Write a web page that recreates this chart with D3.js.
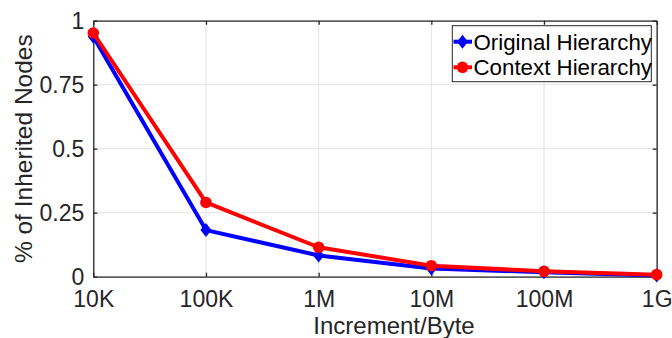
<!DOCTYPE html>
<html>
<head>
<meta charset="utf-8">
<script src="https://cdn.jsdelivr.net/npm/d3@7"></script>
<style>
  html, body { margin: 0; padding: 0; background: #fff; }
  svg { display: block; font-family: "Liberation Sans", Arial, sans-serif; }
</style>
</head>
<body>
<svg id="chart" width="672" height="338"></svg>
<script>
// data
var increments = [1e4, 1e5, 1e6, 1e7, 1e8, 1e9];
var incrementLabels = ["10K", "100K", "1M", "10M", "100M", "1G"];
var originalHierarchy = [0.937, 0.182, 0.083, 0.032, 0.017, 0.005];
var contextHierarchy = [0.952, 0.290, 0.115, 0.043, 0.021, 0.008];
var yTicks = [0, 0.25, 0.5, 0.75, 1];
var yTickLabels = ["0", "0.25", "0.5", "0.75", "1"];

var svg = d3.select("#chart");
var plotLeft = 93.3, plotRight = 656.7, plotTop = 20.7, plotBottom = 276.7;
var axisColor = "#262626";

var x = d3.scaleLog().domain([1e4, 1e9]).range([plotLeft, plotRight]);
var y = d3.scaleLinear().domain([0, 1]).range([plotBottom, plotTop]);

// grid
var grid = svg.append("g").attr("class", "grid");
grid.selectAll("line.gx")
    .data(increments)
    .enter()
    .append("line")
    .attr("x1", function(d){ return x(d); })
    .attr("x2", function(d){ return x(d); })
    .attr("y1", plotTop)
    .attr("y2", plotBottom)
    .attr("stroke", "#e3e3e3")
    .attr("stroke-width", 1);
grid.selectAll("line.gy")
    .data(yTicks)
    .enter()
    .append("line")
    .attr("x1", plotLeft)
    .attr("x2", plotRight)
    .attr("y1", function(d){ return y(d); })
    .attr("y2", function(d){ return y(d); })
    .attr("stroke", "#e3e3e3")
    .attr("stroke-width", 1);

// axes (ticks inside, box on)
var xAxis = d3.axisBottom(x)
    .tickValues(increments)
    .tickFormat(function(d, i){ return incrementLabels[i]; })
    .tickSizeInner(-4)
    .tickSizeOuter(0)
    .tickPadding(14);
var gx = svg.append("g")
    .attr("transform", "translate(0," + plotBottom + ")")
    .call(xAxis);
gx.selectAll("text").attr("font-size", "23px").attr("fill", axisColor)
    .attr("font-family", "Liberation Sans, Arial, sans-serif");

var yAxis = d3.axisLeft(y)
    .tickValues(yTicks)
    .tickFormat(function(d, i){ return yTickLabels[i]; })
    .tickSizeInner(-4)
    .tickSizeOuter(0)
    .tickPadding(9);
var gy = svg.append("g")
    .attr("transform", "translate(" + plotLeft + ",0)")
    .call(yAxis);
gy.selectAll("text").attr("font-size", "23px").attr("fill", axisColor)
    .attr("font-family", "Liberation Sans, Arial, sans-serif");

svg.append("g")
    .attr("transform", "translate(0," + plotTop + ")")
    .call(d3.axisTop(x).tickValues(increments).tickFormat("").tickSizeInner(-4).tickSizeOuter(0));
svg.append("g")
    .attr("transform", "translate(" + plotRight + ",0)")
    .call(d3.axisRight(y).tickValues(yTicks).tickFormat("").tickSizeInner(-4).tickSizeOuter(0));

svg.selectAll(".domain").attr("stroke", axisColor).attr("stroke-width", 1.3);
svg.selectAll(".tick line").attr("stroke", axisColor).attr("stroke-width", 1.3);

// axis labels
svg.append("text")
    .attr("x", 394)
    .attr("y", 334)
    .attr("text-anchor", "middle")
    .attr("font-size", "24px")
    .attr("fill", axisColor)
    .text("Increment/Byte");
svg.append("text")
    .attr("transform", "translate(32," + ((plotTop + plotBottom) / 2) + ") rotate(-90)")
    .attr("text-anchor", "middle")
    .attr("font-size", "24.5px")
    .attr("fill", axisColor)
    .text("% of Inherited Nodes");

// series
var series = [
    {name: "Original Hierarchy", values: originalHierarchy, color: "#0000ff", marker: "diamond"},
    {name: "Context Hierarchy", values: contextHierarchy, color: "#ff0000", marker: "circle"}
];

function drawMarker(g, s, cx, cy)
{
    if(s.marker == "diamond")
    {
        g.append("path")
         .attr("d", "M" + cx + "," + (cy - 7) + "L" + (cx + 5.5) + "," + cy + "L" + cx + "," + (cy + 7) + "L" + (cx - 5.5) + "," + cy + "Z")
         .attr("fill", s.color);
    }
    else
    {
        g.append("circle")
         .attr("cx", cx)
         .attr("cy", cy)
         .attr("r", 5.8)
         .attr("fill", s.color);
    }
}

var line = d3.line()
    .x(function(d, i){ return x(increments[i]); })
    .y(function(d){ return y(d); });

series.forEach(function(s){
    var g = svg.append("g").attr("class", "series");
    g.append("path")
     .datum(s.values)
     .attr("d", line)
     .attr("fill", "none")
     .attr("stroke", s.color)
     .attr("stroke-width", 4)
     .attr("stroke-linejoin", "round");
    s.values.forEach(function(v, i){
        drawMarker(g, s, x(increments[i]), y(v));
    });
});

// legend
var legend = svg.append("g").attr("class", "legend");
legend.append("rect")
    .attr("x", 452.3)
    .attr("y", 25.7)
    .attr("width", 199)
    .attr("height", 56)
    .attr("fill", "#fff")
    .attr("stroke", axisColor)
    .attr("stroke-width", 1);
series.forEach(function(s, i){
    var ly = 41.7 + i * 25.6;
    legend.append("line")
        .attr("x1", 453.5)
        .attr("x2", 472)
        .attr("y1", ly)
        .attr("y2", ly)
        .attr("stroke", s.color)
        .attr("stroke-width", 4);
    drawMarker(legend, s, 462.5, ly);
    legend.append("text")
        .attr("x", 473.5)
        .attr("y", ly + 8)
        .attr("font-size", "22.3px")
        .attr("fill", "#000")
        .text(s.name);
});
</script>
</body>
</html>
